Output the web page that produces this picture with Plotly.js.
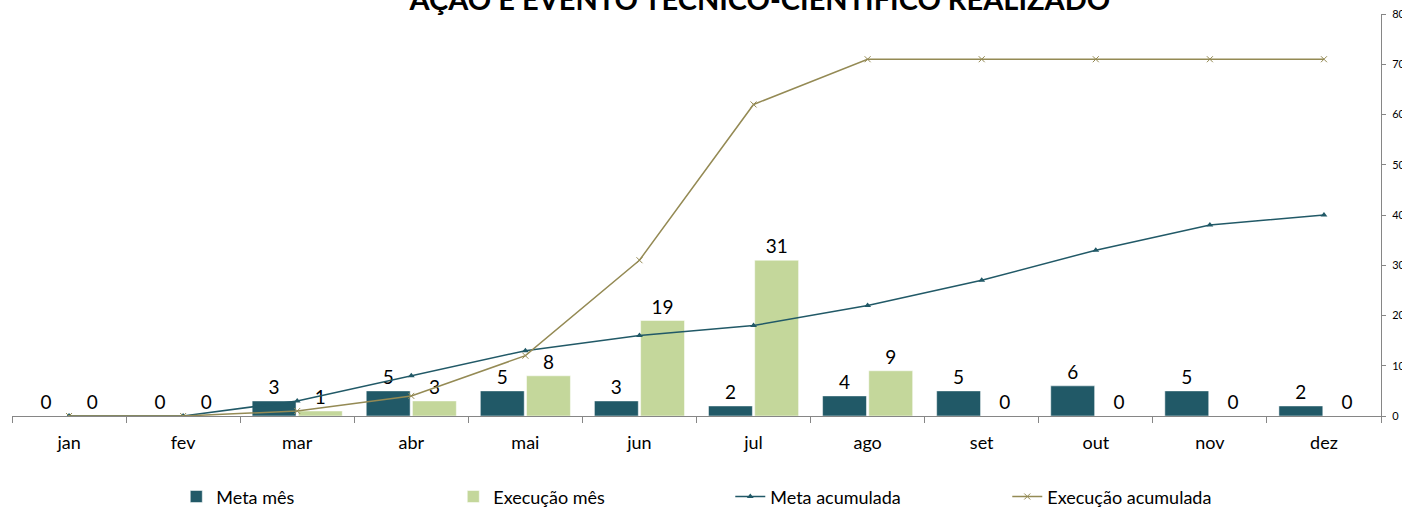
<!DOCTYPE html>
<html>
<head>
<meta charset="utf-8">
<script src="https://cdn.plot.ly/plotly-3.0.1.min.js"></script>
<style>
  html, body { margin: 0; padding: 0; background: #fff; }
  #chart { width: 1402px; height: 507px; }
</style>
</head>
<body>
<div id="chart"></div>
<script>
// Data
const months = ['jan', 'fev', 'mar', 'abr', 'mai', 'jun', 'jul', 'ago', 'set', 'out', 'nov', 'dez'];
const metaMes = [0, 0, 3, 5, 5, 3, 2, 4, 5, 6, 5, 2];
const execucaoMes = [0, 0, 1, 3, 8, 19, 31, 9, 0, 0, 0, 0];
const metaAcumulada = [0, 0, 3, 8, 13, 16, 18, 22, 27, 33, 38, 40];
const execucaoAcumulada = [0, 0, 1, 4, 12, 31, 62, 71, 71, 71, 71, 71];

const FONT = 'Lato, "Open Sans", sans-serif';

const traceMeta = {
    x: months, y: metaMes, name: 'Meta mês', type: 'bar',
    marker: { color: '#215967', line: { color: '#ffffff', width: 0.5 } },
    text: metaMes.map(String), textposition: 'outside', cliponaxis: false,
    textfont: { family: FONT, size: 19, color: '#000' }
};
const traceExec = {
    x: months, y: execucaoMes, name: 'Execução mês', type: 'bar',
    marker: { color: '#C4D79B', line: { color: '#ffffff', width: 0.5 } },
    text: execucaoMes.map(String), textposition: 'outside', cliponaxis: false,
    textfont: { family: FONT, size: 19, color: '#000' }
};
const traceMetaAc = {
    x: months, y: metaAcumulada, name: 'Meta acumulada', type: 'scatter', mode: 'lines+markers',
    line: { color: '#215967', width: 1.5 },
    marker: { symbol: 'triangle-up', size: 6, color: '#215967' }
};
const traceExecAc = {
    x: months, y: execucaoAcumulada, name: 'Execução acumulada', type: 'scatter', mode: 'lines+markers',
    line: { color: '#948A54', width: 1.5 },
    marker: { symbol: 'x-thin', size: 6, line: { color: '#948A54', width: 1 } }
};

const layout = {
    width: 1402, height: 507,
    margin: { l: 12, r: 21, t: 14, b: 91, autoexpand: false },
    paper_bgcolor: '#fff', plot_bgcolor: '#fff',
    font: { family: FONT, color: '#000' },
    title: {
        text: '<b>AÇÃO E EVENTO TÉCNICO-CIENTÍFICO REALIZADO</b>',
        font: { family: FONT, size: 29, color: '#000' },
        x: 0.542, xanchor: 'center', xref: 'container',
        y: 1, yanchor: 'middle', yref: 'container'
    },
    barmode: 'group', bargap: 0.19, bargroupgap: 0.05,
    showlegend: true,
    legend: {
        orientation: 'h', x: 0.12, xanchor: 'left', y: -0.155, yanchor: 'top',
        entrywidth: 232, entrywidthmode: 'pixels', itemwidth: 30,
        font: { family: FONT, size: 18, color: '#000' },
        traceorder: 'normal'
    },
    xaxis: {
        type: 'category', range: [-0.5, 11.5], showgrid: false, zeroline: false,
        showline: true, linecolor: '#868686', linewidth: 1,
        ticks: 'outside', tickson: 'boundaries', ticklen: 6, tickcolor: '#868686',
        ticklabelstandoff: 10,
        tickfont: { family: FONT, size: 18, color: '#000' },
        fixedrange: true
    },
    yaxis: {
        range: [0, 80], dtick: 10, side: 'right', showgrid: false, zeroline: false,
        showline: true, linecolor: '#868686', linewidth: 1,
        ticks: 'outside', ticklen: 4, tickcolor: '#868686', ticklabelstandoff: 4,
        tickfont: { family: FONT, size: 11, color: '#000' },
        fixedrange: true
    }
};

Plotly.newPlot('chart', [traceMeta, traceExec, traceMetaAc, traceExecAc], layout, { displayModeBar: false, staticPlot: true });
</script>
</body>
</html>
